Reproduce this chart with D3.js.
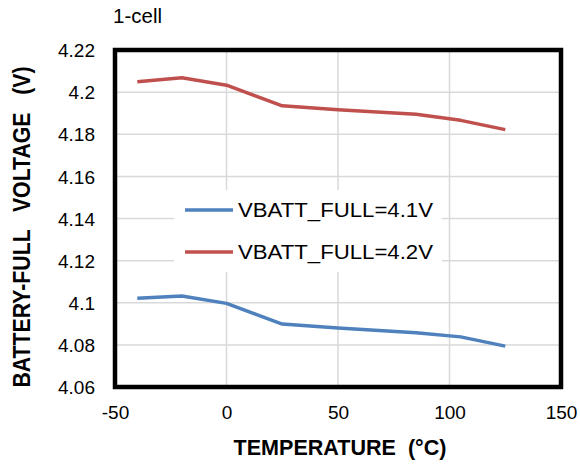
<!DOCTYPE html>
<html><head><meta charset="utf-8">
<script src="https://cdn.jsdelivr.net/npm/d3@7"></script>
<style>body{margin:0;background:#fff}svg{display:block}text{font-family:"Liberation Sans",Arial,sans-serif;fill:#000}</style>
</head><body>
<svg id="chart" width="580" height="467"></svg>
<script>
const temps = [-40, -20, 0, 25, 50, 85, 105, 125];
const vbatt41 = [4.1021, 4.1032, 4.0997, 4.0899, 4.0880, 4.0858, 4.0838, 4.0794];
const vbatt42 = [4.2049, 4.2068, 4.2033, 4.1935, 4.1916, 4.1895, 4.1866, 4.1822];
const seriesNames = ["VBATT_FULL=4.1V", "VBATT_FULL=4.2V"];
const seriesColors = ["#4F81BD", "#C0504D"];
const xTicks = [-50, 0, 50, 100, 150];
const yTicks = [4.06, 4.08, 4.1, 4.12, 4.14, 4.16, 4.18, 4.2, 4.22];
const yTickLabels = ["4.06", "4.08", "4.1", "4.12", "4.14", "4.16", "4.18", "4.2", "4.22"];
const subtitle = "1-cell";
const xTitle = "TEMPERATURE  (°C)";
const yTitle = "BATTERY-FULL   VOLTAGE   (V)";

const svg = d3.select("#chart");
const L = 115, R = 561, T = 50, B = 387;
const x = d3.scaleLinear().domain([-50, 150]).range([L, R]);
const y = d3.scaleLinear().domain([4.06, 4.22]).range([B, T]);

// gridlines
const g = svg.append("g");
g.selectAll(".gx").data(xTicks).enter().append("line")
  .attr("x1", d => x(d)).attr("x2", d => x(d)).attr("y1", T).attr("y2", B)
  .attr("stroke", "#d9d9d9").attr("stroke-width", 1.5);
g.selectAll(".gy").data(yTicks).enter().append("line")
  .attr("x1", L).attr("x2", R).attr("y1", d => y(d)).attr("y2", d => y(d))
  .attr("stroke", "#d9d9d9").attr("stroke-width", 1.5);

// axes (labels only)
const xAxis = d3.axisBottom(x).tickValues(xTicks).tickSize(0).tickPadding(0).tickFormat(d => String(d));
const xa = svg.append("g").attr("transform", `translate(0,${B})`).call(xAxis);
xa.select(".domain").remove();
xa.selectAll("text").attr("dy", null).attr("y", 32).style("font-size", "19px")
  .style("font-family", '"Liberation Sans",Arial,sans-serif').attr("fill", "#000");

const yAxis = d3.axisLeft(y).tickValues(yTicks).tickSize(0).tickPadding(0)
  .tickFormat((d, i) => yTickLabels[i]);
const ya = svg.append("g").attr("transform", `translate(95,0)`).call(yAxis);
ya.select(".domain").remove();
ya.selectAll("text").attr("dy", "0.35em").attr("x", 0).style("font-size", "19px")
  .style("font-family", '"Liberation Sans",Arial,sans-serif').attr("fill", "#000");

// series lines
const line = d3.line().x(d => x(d[0])).y(d => y(d[1]));
[vbatt41, vbatt42].forEach((vals, i) => {
  svg.append("path").datum(temps.map((t, j) => [t, vals[j]]))
    .attr("d", line).attr("fill", "none").attr("stroke", seriesColors[i])
    .attr("stroke-width", 3.5).attr("stroke-linejoin", "round");
});

// frame
svg.append("rect").attr("x", L).attr("y", T).attr("width", R - L).attr("height", B - T)
  .attr("fill", "none").attr("stroke", "#000").attr("stroke-width", 4.5);

// legend
svg.append("rect").attr("x", 174).attr("y", 190).attr("width", 268).attr("height", 82).attr("fill", "#fff");
seriesNames.forEach((n, i) => {
  const yy = 210 + i * 42;
  svg.append("line").attr("x1", 185).attr("x2", 233).attr("y1", yy).attr("y2", yy)
    .attr("stroke", seriesColors[i]).attr("stroke-width", 3.5);
  svg.append("text").attr("x", 238).attr("y", yy + 7).style("font-size", "19.5px")
    .attr("textLength", 195).attr("lengthAdjust", "spacingAndGlyphs").text(n);
});

// titles
svg.append("text").attr("x", 113).attr("y", 23).style("font-size", "20.5px").text(subtitle);
svg.append("text").attr("x", 340).attr("y", 455).attr("text-anchor", "middle")
  .style("font-size", "22px").style("font-weight", "bold").style("white-space", "pre")
  .attr("textLength", 213).attr("lengthAdjust", "spacingAndGlyphs").text(xTitle);
svg.append("text").attr("transform", "translate(30,227) rotate(-90)").attr("text-anchor", "middle")
  .style("font-size", "23px").style("font-weight", "bold").style("white-space", "pre")
  .attr("textLength", 321).attr("lengthAdjust", "spacingAndGlyphs").text(yTitle);
</script>
</body></html>
